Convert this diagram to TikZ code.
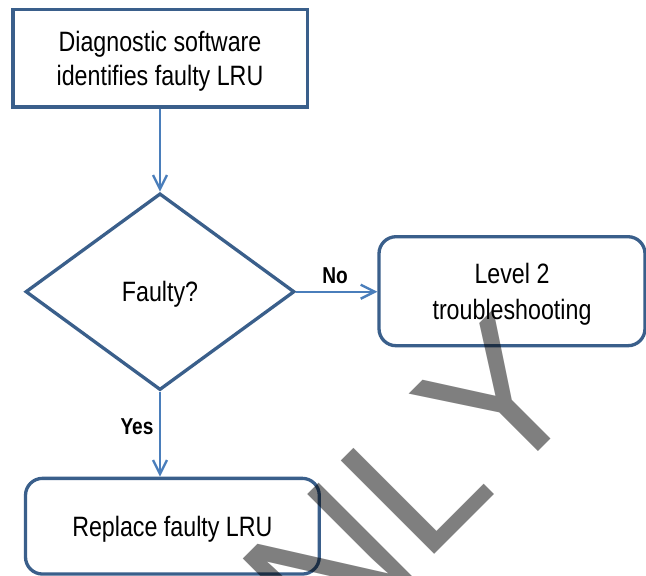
\documentclass[tikz,border=0pt]{standalone}
\usepackage{fontspec}
\setmainfont{Liberation Sans}
\newfontfamily\mainf[FakeStretch=0.83]{Liberation Sans}
\newfontfamily\wmf[Kerning=Off]{Liberation Sans}
\usetikzlibrary{shapes.geometric,arrows.meta}
\definecolor{boxblue}{RGB}{58,95,139}
\definecolor{arrblue}{RGB}{74,126,187}
\begin{document}
\begin{tikzpicture}[x=1pt,y=-1pt,
  txt/.style={font=\mainf\fontsize{28}{34}\selectfont, align=center, text depth=0pt, inner sep=0pt},
  lbl/.style={font=\mainf\bfseries\fontsize{23}{27}\selectfont, inner sep=0pt, anchor=base},
  boxline/.style={draw=boxblue, line width=3.3pt, fill=white},
  conn/.style={draw=arrblue, line width=2.4pt, -{Straight Barb[length=14pt,width=14pt]}}
]
\useasboundingbox[fill=white] (0,0) rectangle (646,576);

\node[boxline, txt, rectangle, minimum width=294.3pt, minimum height=97.7pt] (diag) at (160,58.2) {Diagnostic software\\identifies faulty LRU};
\node[boxline, txt, diamond, minimum width=269pt, minimum height=196.7pt] (faulty) at (160,291.7) {Faulty?};
\node[boxline, txt, rectangle, rounded corners=17pt, minimum width=266pt, minimum height=109pt] (lvl2) at (512,291.2) {Level 2\\[2pt]troubleshooting};
\node[boxline, txt, rectangle, rounded corners=17pt, minimum width=293.8pt, minimum height=95.7pt] (repl) at (172.4,526.2) {Replace faulty LRU};

\draw[conn] (diag.south) -- (faulty.north);
\draw[conn] (faulty.east) -- (faulty.east -| lvl2.west);
\draw[conn] (faulty.south) -- (faulty.south |- repl.north);

\node[lbl] (no) at (335,283.3) {No};
\node[lbl] (yes) at (137,434.3) {Yes};

\begin{scope}
\clip (0,0) rectangle (646,576);
\node[rotate=45, anchor=base west, inner sep=0pt, text=black, text opacity=0.5, font=\wmf\fontsize{192}{200}\selectfont] (wm) at (325.4,663.9) {NLY};
\end{scope}
\end{tikzpicture}
\end{document}
